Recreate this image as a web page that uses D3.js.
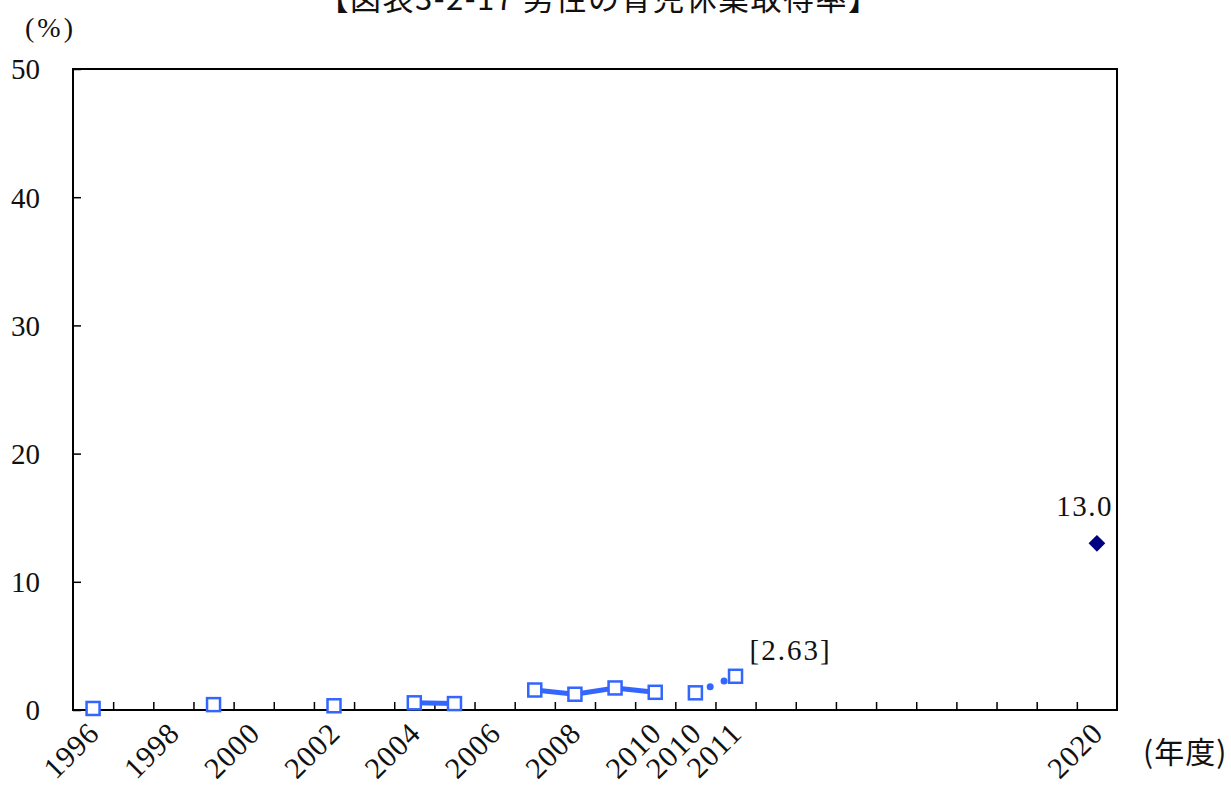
<!DOCTYPE html>
<html><head><meta charset="utf-8">
<script src="https://cdn.jsdelivr.net/npm/d3@7"></script>
<style>html,body{margin:0;padding:0;background:#fff;overflow:hidden}</style>
</head><body>
<svg id="chart" width="1231" height="785"></svg>
<script>
const titleText = "【図表3-2-17 男性の育児休業取得率】";
const categories = ["1996","1997","1998","1999","2000","2001","2002","2003","2004","2005","2006","2007","2008","2009","2010","2010*","2011","2012","2013","2014","2015","2016","2017","2018","2019","2020"];
const tickLabels = ["1996","","1998","","2000","","2002","","2004","","2006","","2008","","2010","2010","2011","","","","","","","","","2020"];
const solidValues = [0.12,null,null,0.42,null,null,0.33,null,0.56,0.50,null,1.56,1.23,1.72,1.38,null,null,null,null,null,null,null,null,null,null,null];
const dottedValues = [null,null,null,null,null,null,null,null,null,null,null,null,null,null,null,1.34,2.63,null,null,null,null,null,null,null,null,null];
const targetValues = [null,null,null,null,null,null,null,null,null,null,null,null,null,null,null,null,null,null,null,null,null,null,null,null,null,13.0];
const yTicks = [0,10,20,30,40,50];

const svg = d3.select("#chart");
const L = 73, R = 1117, T = 69, B = 710;
const serif = "'Liberation Serif','DejaVu Serif',serif";
const cjk = "'Noto Sans CJK JP','Noto Sans CJK SC',sans-serif";

const x = d3.scaleBand().domain(d3.range(categories.length)).range([L, R]).padding(0);
const xb = d3.scaleLinear().domain([0, categories.length]).range([L, R]);
const y = d3.scaleLinear().domain([0, 50]).range([B, T]);

// title (partially cut at top)
svg.append("text").attr("x", 599).attr("y", 10).attr("text-anchor", "middle")
  .attr("font-family", cjk).attr("font-size", 31).attr("letter-spacing", 1.5).attr("fill", "#111").text(titleText);

// frame
svg.append("rect").attr("x", L).attr("y", T).attr("width", R - L).attr("height", B - T)
  .attr("fill", "none").attr("stroke", "#000").attr("stroke-width", 2);

// y axis
const ya = svg.append("g").attr("transform", `translate(${L},0)`)
  .call(d3.axisLeft(y).tickValues(yTicks).tickSize(-8).tickPadding(33).tickFormat(d3.format("d")));
ya.select(".domain").remove();
ya.selectAll("line").attr("stroke", "#000").attr("stroke-width", 1.5);
ya.selectAll("text").attr("font-family", serif).attr("font-size", 29).attr("fill", "#111").attr("dy", "0.34em");

// x axis boundary ticks
const xa = svg.append("g").attr("transform", `translate(0,${B})`)
  .call(d3.axisBottom(xb).tickValues(d3.range(1, categories.length)).tickSize(-8).tickFormat(""));
xa.select(".domain").remove();
xa.selectAll("line").attr("stroke", "#000").attr("stroke-width", 1.5);

// x labels
const xl = svg.append("g").attr("transform", `translate(0,${B})`)
  .call(d3.axisBottom(x).tickSize(0).tickFormat(i => tickLabels[i]));
xl.select(".domain").remove();
xl.selectAll("text")
  .attr("font-family", serif).attr("font-size", 30).attr("letter-spacing", 1).attr("fill", "#111")
  .attr("text-anchor", "end").attr("y", 0).attr("dy", 0)
  .attr("transform", "translate(8,25) rotate(-45)");

// "(%)" and "(年度)"
svg.append("text").attr("x", 25).attr("y", 37).attr("font-family", serif).attr("font-size", 28)
  .attr("letter-spacing", 3).attr("fill", "#111").text("(%)");
svg.append("text").attr("x", 1143).attr("y", 763).attr("font-family", cjk).attr("font-size", 30)
  .attr("letter-spacing", 1).attr("fill", "#111").text("(年度)");

const blue = "#3366ff";
const cx = i => x(i) + x.bandwidth() / 2;

// solid line
const line = d3.line().defined(d => d.v != null).x(d => cx(d.i)).y(d => y(d.v));
svg.append("path").datum(solidValues.map((v, i) => ({i, v})))
  .attr("d", line).attr("fill", "none").attr("stroke", blue).attr("stroke-width", 5);

// dotted line
svg.append("path").datum(dottedValues.map((v, i) => ({i, v})))
  .attr("d", line).attr("fill", "none").attr("stroke", blue).attr("stroke-width", 7)
  .attr("stroke-linecap", "round").attr("stroke-dasharray", "0 15").attr("stroke-dashoffset", -1);

// square markers
const pts = solidValues.map((v, i) => ({i, v})).filter(d => d.v != null)
  .concat(dottedValues.map((v, i) => ({i, v})).filter(d => d.v != null));
svg.selectAll("rect.m").data(pts).enter().append("rect").attr("class", "m")
  .attr("x", d => cx(d.i) - 6.5).attr("y", d => y(d.v) - 6.5).attr("width", 13).attr("height", 13)
  .attr("fill", "#fff").attr("stroke", blue).attr("stroke-width", 2.5);

// target diamond
const tgt = targetValues.map((v, i) => ({i, v})).filter(d => d.v != null);
svg.selectAll("path.t").data(tgt).enter().append("path").attr("class", "t")
  .attr("d", d3.symbol(d3.symbolSquare, 140))
  .attr("transform", d => `translate(${cx(d.i)},${y(d.v)}) rotate(45)`)
  .attr("fill", "#000080");
svg.selectAll("text.t").data(tgt).enter().append("text").attr("class", "t")
  .attr("x", d => cx(d.i) + 16).attr("y", d => y(d.v) - 27).attr("text-anchor", "end")
  .attr("font-family", serif).attr("font-size", 29).attr("letter-spacing", 1.5).attr("fill", "#111")
  .text(d => d3.format(".1f")(d.v));

// [2.63] label
const lastIdx = 16;
svg.append("text").attr("x", cx(lastIdx) + 14).attr("y", y(dottedValues[lastIdx]) - 16)
  .attr("font-family", serif).attr("font-size", 29).attr("letter-spacing", 2).attr("fill", "#111")
  .text(`[${d3.format(".2f")(dottedValues[lastIdx])}]`);
</script>
</body></html>
